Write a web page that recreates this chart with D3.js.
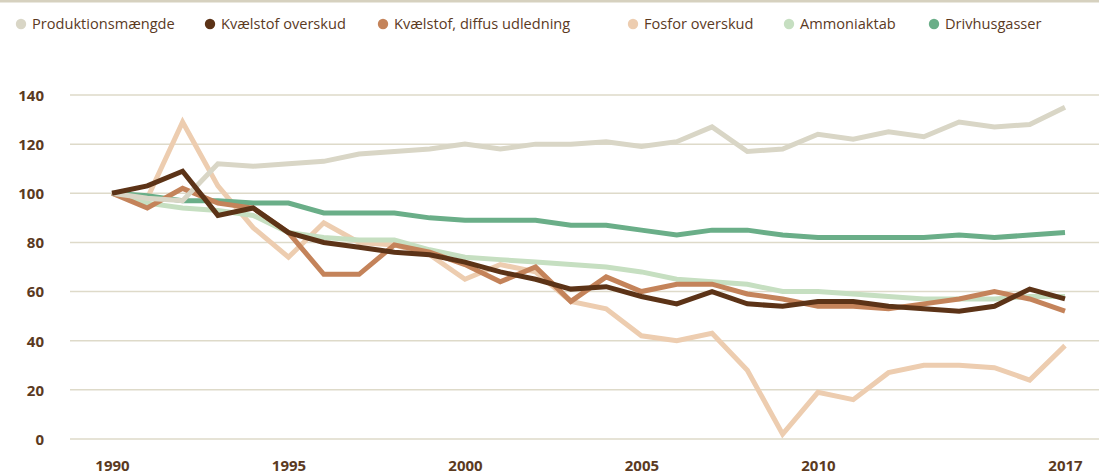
<!DOCTYPE html>
<html>
<head>
<meta charset="utf-8">
<script src="https://cdn.jsdelivr.net/npm/d3@7"></script>
<style>
  html, body { margin: 0; padding: 0; background: #fff; }
  svg { display: block; }
  text { font-family: "Open Sans", "Noto Sans", sans-serif; fill: #5b3a1f; }
</style>
</head>
<body>
<svg id="chart" width="1099" height="475"></svg>
<script>
const years = d3.range(1990, 2018);
const yTicks = [0, 20, 40, 60, 80, 100, 120, 140];
const xTickLabels = [1990, 1995, 2000, 2005, 2010, 2017];

const seriesNames = ["Produktionsmængde", "Kvælstof overskud", "Kvælstof, diffus udledning", "Fosfor overskud", "Ammoniaktab", "Drivhusgasser"];
const seriesColors = ["#d9d6c6", "#5c3317", "#c4835a", "#edcdb0", "#c6dfc1", "#6aae88"];

const produktion = [100, 98, 97, 112, 111, 112, 113, 116, 117, 118, 120, 118, 120, 120, 121, 119, 121, 127, 117, 118, 124, 122, 125, 123, 129, 127, 128, 135];
const kvaelstofOverskud = [100, 103, 109, 91, 94, 84, 80, 78, 76, 75, 72, 68, 65, 61, 62, 58, 55, 60, 55, 54, 56, 56, 54, 53, 52, 54, 61, 57];
const kvaelstofDiffus = [100, 94, 102, 96, 94, 84, 67, 67, 79, 76, 71, 64, 70, 56, 66, 60, 63, 63, 59, 57, 54, 54, 53, 55, 57, 60, 57, 52];
const fosforOverskud = [100, 98, 129, 103, 86, 74, 88, 80, 79, 75, 65, 71, 68, 56, 53, 42, 40, 43, 28, 2, 19, 16, 27, 30, 30, 29, 24, 38];
const ammoniaktab = [100, 96, 94, 93, 91, 84, 82, 81, 81, 77, 74, 73, 72, 71, 70, 68, 65, 64, 63, 60, 60, 59, 58, 57, 57, 57, 58, 58];
const drivhusgasser = [100, 99, 97, 97, 96, 96, 92, 92, 92, 90, 89, 89, 89, 87, 87, 85, 83, 85, 85, 83, 82, 82, 82, 82, 83, 82, 83, 84];

const seriesValues = [produktion, kvaelstofOverskud, kvaelstofDiffus, fosforOverskud, ammoniaktab, drivhusgasser];
// drawing order (bottom to top)
const drawOrder = [3, 4, 5, 2, 0, 1];

const svg = d3.select("#chart");
const W = 1099, H = 475;

const x = d3.scaleLinear().domain([1990, 2017]).range([112, 1065]);
const y = d3.scaleLinear().domain([0, 140]).range([439, 95]);

// top rule
svg.append("rect").attr("x", 0).attr("y", 0).attr("width", W).attr("height", 2.5).attr("fill", "#d6d1bf");

// gridlines
const grid = svg.append("g");
grid.selectAll("line").data(yTicks).join("line")
  .attr("x1", 70).attr("x2", W)
  .attr("y1", d => y(d)).attr("y2", d => y(d))
  .attr("stroke", "#dedac9").attr("stroke-width", 1.5);

// y axis labels
const yAxis = d3.axisLeft(y).tickValues(yTicks).tickSize(0).tickPadding(0);
const gy = svg.append("g").attr("transform", "translate(44,0)").call(yAxis);
gy.select(".domain").remove();
gy.selectAll("text").attr("font-size", 15).attr("font-weight", 700)
  .style("font-family", '"Open Sans", sans-serif').attr("fill", "#5b3a1f").attr("dy", "0.36em");

// x axis labels
const xAxis = d3.axisBottom(x).tickValues(xTickLabels).tickFormat(d3.format("d")).tickSize(0).tickPadding(0);
const gx = svg.append("g").attr("transform", "translate(0,471)").call(xAxis);
gx.select(".domain").remove();
gx.selectAll("text").attr("font-size", 15).attr("font-weight", 700)
  .style("font-family", '"Open Sans", sans-serif').attr("fill", "#5b3a1f").attr("y", 0).attr("dy", 0);

// lines
const line = d3.line().x((d, i) => x(years[i])).y(d => y(d)).curve(d3.curveLinear);
const lines = svg.append("g");
drawOrder.forEach(k => {
  lines.append("path")
    .datum(seriesValues[k])
    .attr("d", line)
    .attr("fill", "none")
    .attr("stroke", seriesColors[k])
    .attr("stroke-width", 5)
    .attr("stroke-linejoin", "miter")
    .attr("stroke-linecap", "butt");
});

// legend
const legendX = [21, 210, 383, 633, 789, 934];
const legend = svg.append("g");
seriesNames.forEach((name, i) => {
  const g = legend.append("g").attr("transform", `translate(${legendX[i]},24)`);
  g.append("circle").attr("r", 5.2).attr("fill", seriesColors[i]);
  g.append("text").attr("x", 11).attr("y", 0).attr("dy", "0.35em")
    .attr("font-size", 14.6).text(name);
});
</script>
</body>
</html>
